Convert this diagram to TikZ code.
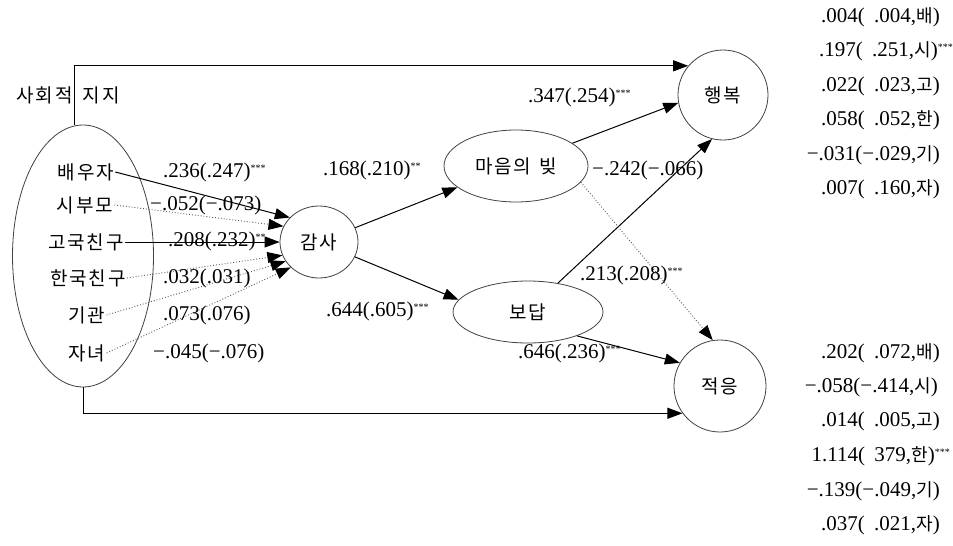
\documentclass[tikz,border=0pt]{standalone}
\usepackage{fontspec}
\setmainfont{Liberation Serif}
\newfontfamily\krfont[LetterSpace=10]{Noto Sans CJK KR}
\usetikzlibrary{shapes.geometric,arrows.meta}
\newcommand\K[1]{{\krfont\fontsize{18}{22}\selectfont #1}}
\newcommand\st[1]{\rlap{\raisebox{6pt}{\fontsize{10}{10}\selectfont #1}}}
\newcommand\gapsp{\hspace{0.45em}}
\begin{document}
\begin{tikzpicture}[x=1pt,y=-1pt,
  lab/.style={font=\fontsize{21}{24}\selectfont, inner sep=0pt},
  krt/.style={font=\krfont\fontsize{19}{22}\selectfont, inner sep=1pt},
  circ/.style={ellipse, draw=black!75, line width=0.8pt, inner sep=0pt, font=\krfont\fontsize{19}{22}\selectfont},
  arr/.style={-{Triangle[length=15pt,width=11pt]}, line width=1pt},
  darr/.style={-{Triangle[length=15pt,width=11pt,color=black]}, line width=0.9pt, dotted, black!65},
]
\useasboundingbox (0,0) rectangle (953,546);
% nodes
\node[circ, minimum width=141pt, minimum height=262pt] (ss) at (83,256) {};
\node[circ, minimum width=78pt, minimum height=72pt] (gs) at (319,242) {감사};
\node[circ, minimum width=144pt, minimum height=72pt] (mb) at (516,166) {마음의\hspace{8pt}빚};
\node[circ, minimum width=150pt, minimum height=62pt] (bd) at (528,312) {보답};
\node[circ, minimum width=90pt, minimum height=90pt] (hb) at (723,95) {행복};
\node[circ, minimum width=92pt, minimum height=92pt] (jy) at (720,386) {적응};
\node[krt] (title) at (68,95) {사회적\hspace{10pt}지지};
\node[krt] (bw) at (86,172) {배우자};
\node[krt] (sb) at (85,205) {시부모};
\node[krt] (gk) at (86,242) {고국친구};
\node[krt] (hk) at (88,278) {한국친구};
\node[krt] (gg) at (87,315) {기관};
\node[krt] (jn) at (87,353) {자녀};
% connectors
\draw[arr] (bw.east) -- (gs.140);
\draw[darr] (sb.east) -- (gs.156);
\draw[arr] (gk.east) -- (gs.180);
\draw[darr] (hk.east) -- (gs.200);
\draw[darr] (gg.east) -- (gs.210);
\draw[darr] (jn.east) -- (gs.222);
\draw[arr] (gs) -- (mb.200);
\draw[arr] (gs) -- (bd.170);
\draw[arr] (mb.22) -- (hb.190);
\draw[arr] (bd.44) -- (hb.256);
\draw[darr] (mb.346) -- (jy.99);
\draw[arr] (bd.334) -- (jy.150);
\draw[arr] ([xshift=-9pt]ss.north) |- (hb.140);
\draw[arr] (ss.south) |- (jy.216);
% path labels
\node[lab, anchor=west] (l1) at (163,172) {.236(.247)\st{***}};
\node[lab, anchor=west] (l2) at (150,205) {−.052(−.073)};
\node[lab, anchor=west] (l3) at (168,241) {.208(.232)\st{**}};
\node[lab, anchor=west] (l4) at (163,278) {.032(.031)};
\node[lab, anchor=west] (l5) at (163,315) {.073(.076)};
\node[lab, anchor=west] (l6) at (153,353) {−.045(−.076)};
\node[lab, anchor=west] (l7) at (323,170) {.168(.210)\st{**}};
\node[lab, anchor=west] (l8) at (326,311) {.644(.605)\st{***}};
\node[lab, anchor=west] (l9) at (528,97) {.347(.254)\st{***}};
\node[lab, anchor=west] (l10) at (592,170) {−.242(−.066)};
\node[lab, anchor=west] (l11) at (580,275) {.213(.208)\st{***}};
\node[lab, anchor=west] (l12) at (518,353) {.646(.236)\st{***}};
% right column: happiness
\node[lab, anchor=east] (r1) at (940,17) {.004(\gapsp.004,\K{배})};
\node[lab, anchor=east] (r2) at (938,51) {.197(\gapsp.251,\K{시})\st{***}};
\node[lab, anchor=east] (r3) at (940,86) {.022(\gapsp.023,\K{고})};
\node[lab, anchor=east] (r4) at (940,120) {.058(\gapsp.052,\K{한})};
\node[lab, anchor=east] (r5) at (940,155) {−.031(−.029,\K{기})};
\node[lab, anchor=east] (r6) at (940,189) {.007(\gapsp.160,\K{자})};
% right column: adaptation
\node[lab, anchor=east] (s1) at (940,353) {.202(\gapsp.072,\K{배})};
\node[lab, anchor=east] (s2) at (938,387) {−.058(−.414,\K{시})};
\node[lab, anchor=east] (s3) at (940,421) {.014(\gapsp.005,\K{고})};
\node[lab, anchor=east] (s4) at (935,456) {1.114(\gapsp379,\K{한})\st{***}};
\node[lab, anchor=east] (s5) at (940,491) {−.139(−.049,\K{기})};
\node[lab, anchor=east] (s6) at (940,525) {.037(\gapsp.021,\K{자})};
\end{tikzpicture}
\end{document}
